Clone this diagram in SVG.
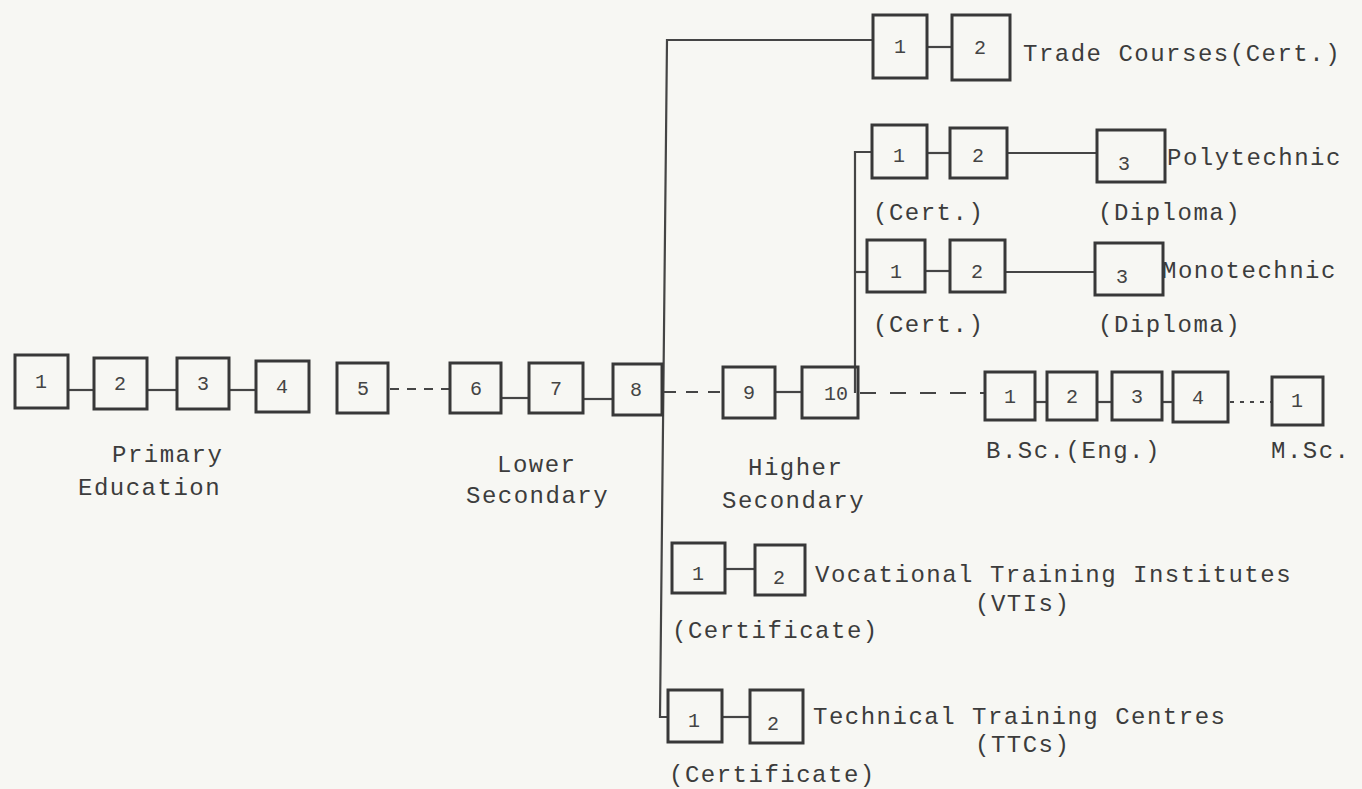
<svg xmlns="http://www.w3.org/2000/svg" width="1362" height="789" viewBox="0 0 1362 789">
<style>
.bx{fill:none;stroke:#383838;stroke-width:3}
.ln{fill:none;stroke:#454545;stroke-width:2.2}
.dash1{stroke-dasharray:9 8}
.dash2{stroke-dasharray:12 10}
.dash3{stroke-dasharray:16 14}
.dot{stroke-dasharray:4 6}
.n{font-family:"Liberation Mono",monospace;font-size:20px;fill:#444;text-anchor:middle}
.t{font-family:"Liberation Mono",monospace;font-size:24px;letter-spacing:1.5px;fill:#3c3c3c}
</style>
<rect width="1362" height="789" fill="#f7f7f3"/>
<g id="connectors">
<line class="ln" x1="68" y1="390" x2="94" y2="390"/>
<line class="ln" x1="147" y1="390" x2="177" y2="390"/>
<line class="ln" x1="229" y1="390" x2="256" y2="390"/>
<line class="ln dash1" x1="390" y1="389" x2="450" y2="389"/>
<line class="ln" x1="501" y1="398" x2="529" y2="398"/>
<line class="ln" x1="583" y1="399" x2="613" y2="399"/>
<line class="ln dash2" x1="664" y1="392" x2="723" y2="392"/>
<line class="ln" x1="775" y1="392" x2="802" y2="392"/>
<line class="ln dash3" x1="860" y1="393" x2="985" y2="393"/>
<line class="ln" x1="1035" y1="402" x2="1047" y2="402"/>
<line class="ln" x1="1097" y1="402" x2="1112" y2="402"/>
<line class="ln" x1="1162" y1="402" x2="1173" y2="402"/>
<line class="ln dot" x1="1230" y1="402" x2="1272" y2="402"/>
<polyline class="ln" points="873,40 667,40 660,717 668,717"/>
<line class="ln" x1="927" y1="47" x2="952" y2="47"/>
<polyline class="ln" points="872,152 855,152 855,393"/>
<line class="ln" x1="855" y1="272" x2="867" y2="272"/>
<line class="ln" x1="927" y1="153" x2="950" y2="153"/>
<line class="ln" x1="1007" y1="153" x2="1097" y2="153"/>
<line class="ln" x1="925" y1="271" x2="950" y2="271"/>
<line class="ln" x1="1005" y1="272" x2="1095" y2="272"/>
<line class="ln" x1="725" y1="569" x2="755" y2="569"/>
<line class="ln" x1="722" y1="717" x2="750" y2="717"/>
</g>
<g id="p1"><rect class="bx" x="15" y="355" width="53" height="53"/><text class="n" x="41" y="388">1</text></g>
<g id="p2"><rect class="bx" x="94" y="358" width="53" height="51"/><text class="n" x="120" y="390">2</text></g>
<g id="p3"><rect class="bx" x="177" y="358" width="52" height="51"/><text class="n" x="203" y="390">3</text></g>
<g id="p4"><rect class="bx" x="256" y="361" width="53" height="51"/><text class="n" x="282" y="393">4</text></g>
<g id="p5"><rect class="bx" x="337" y="363" width="51" height="50"/><text class="n" x="363" y="395">5</text></g>
<g id="l6"><rect class="bx" x="450" y="363" width="51" height="50"/><text class="n" x="476" y="395">6</text></g>
<g id="l7"><rect class="bx" x="529" y="363" width="54" height="50"/><text class="n" x="556" y="395">7</text></g>
<g id="l8"><rect class="bx" x="613" y="364" width="49" height="51"/><text class="n" x="636" y="396">8</text></g>
<g id="h9"><rect class="bx" x="723" y="367" width="52" height="51"/><text class="n" x="749" y="399">9</text></g>
<g id="h10"><rect class="bx" x="802" y="367" width="56" height="51"/><text class="n" x="836" y="400">10</text></g>
<g id="b1"><rect class="bx" x="985" y="372" width="50" height="48"/><text class="n" x="1010" y="403">1</text></g>
<g id="b2"><rect class="bx" x="1047" y="372" width="50" height="48"/><text class="n" x="1072" y="403">2</text></g>
<g id="b3"><rect class="bx" x="1112" y="372" width="50" height="48"/><text class="n" x="1137" y="403">3</text></g>
<g id="b4"><rect class="bx" x="1173" y="372" width="55" height="50"/><text class="n" x="1198" y="404">4</text></g>
<g id="m1"><rect class="bx" x="1272" y="377" width="51" height="48"/><text class="n" x="1297" y="407">1</text></g>
<g id="t1"><rect class="bx" x="873" y="15" width="54" height="63"/><text class="n" x="900" y="53">1</text></g>
<g id="t2"><rect class="bx" x="952" y="15" width="58" height="65"/><text class="n" x="980" y="54">2</text></g>
<g id="po1"><rect class="bx" x="872" y="125" width="55" height="53"/><text class="n" x="899" y="162">1</text></g>
<g id="po2"><rect class="bx" x="950" y="128" width="57" height="50"/><text class="n" x="978" y="162">2</text></g>
<g id="po3"><rect class="bx" x="1097" y="130" width="68" height="52"/><text class="n" x="1124" y="170">3</text></g>
<g id="mo1"><rect class="bx" x="867" y="240" width="58" height="52"/><text class="n" x="896" y="278">1</text></g>
<g id="mo2"><rect class="bx" x="950" y="240" width="55" height="52"/><text class="n" x="977" y="278">2</text></g>
<g id="mo3"><rect class="bx" x="1095" y="243" width="68" height="52"/><text class="n" x="1122" y="283">3</text></g>
<g id="v1"><rect class="bx" x="672" y="543" width="53" height="50"/><text class="n" x="698" y="580">1</text></g>
<g id="v2"><rect class="bx" x="755" y="545" width="50" height="50"/><text class="n" x="779" y="584">2</text></g>
<g id="tt1"><rect class="bx" x="668" y="690" width="54" height="52"/><text class="n" x="694" y="727">1</text></g>
<g id="tt2"><rect class="bx" x="750" y="690" width="53" height="53"/><text class="n" x="773" y="730">2</text></g>
<g id="labels">
<text class="t" x="112" y="462">Primary</text>
<text class="t" x="78" y="495">Education</text>
<text class="t" x="497" y="472">Lower</text>
<text class="t" x="466" y="503">Secondary</text>
<text class="t" x="748" y="475">Higher</text>
<text class="t" x="722" y="508">Secondary</text>
<text class="t" x="986" y="458">B.Sc.(Eng.)</text>
<text class="t" x="1271" y="458">M.Sc.</text>
<text class="t" x="1023" y="61">Trade Courses(Cert.)</text>
<text class="t" x="1167" y="165">Polytechnic</text>
<text class="t" x="873" y="220">(Cert.)</text>
<text class="t" x="1098" y="220">(Diploma)</text>
<text class="t" x="1162" y="278">Monotechnic</text>
<text class="t" x="873" y="332">(Cert.)</text>
<text class="t" x="1098" y="332">(Diploma)</text>
<text class="t" x="815" y="582">Vocational Training Institutes</text>
<text class="t" x="975" y="611">(VTIs)</text>
<text class="t" x="672" y="638">(Certificate)</text>
<text class="t" x="813" y="724">Technical Training Centres</text>
<text class="t" x="975" y="752">(TTCs)</text>
<text class="t" x="669" y="782">(Certificate)</text>
</g>
</svg>
